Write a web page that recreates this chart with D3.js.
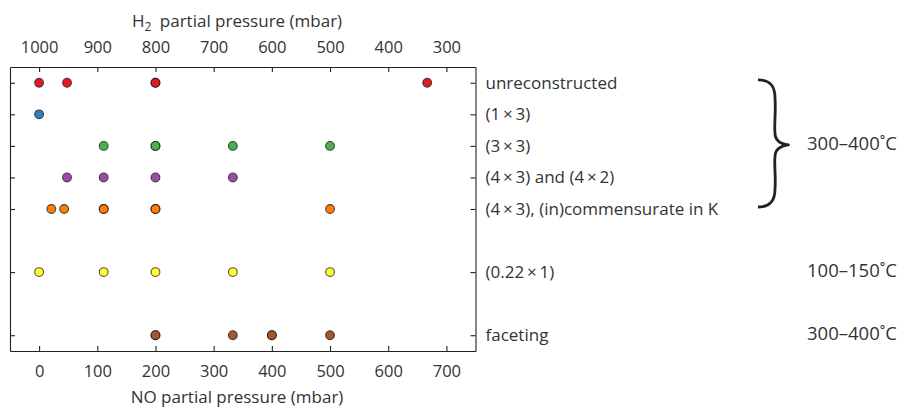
<!DOCTYPE html>
<html>
<head>
<meta charset="utf-8">
<script src="https://cdn.jsdelivr.net/npm/d3@7"></script>
<style>
  body { margin: 0; background: #fff; }
  text { font-family: "Open Sans", sans-serif; fill: #333; }
</style>
</head>
<body>
<script>
// phases observed (rows, top to bottom)
const phases = ["unreconstructed", "(1\u2009×\u20093)", "(3\u2009×\u20093)",
  "(4\u2009×\u20093) and (4\u2009×\u20092)", "(4\u2009×\u20093), (in)commensurate in K",
  "(0.22\u2009×\u20091)", "faceting"]
// empty slots between rows
const rowSlots = [phases[0], phases[1], phases[2], phases[3], phases[4], "gap1", phases[5], "gap2", phases[6]]

// NO partial pressure (mbar) per phase; repeated values = overlapping points
const unreconstructed = [0, 48, 200, 200, 667]
const p1x3 = [0]
const p3x3 = [111, 200, 200, 333, 500]
const p4x3and4x2 = [48, 111, 200, 333]
const p4x3incomm = [21, 43, 111, 111, 200, 200, 500]
const p022x1 = [0, 111, 200, 333, 500]
const faceting = [200, 200, 333, 400, 400, 500]
const seriesValues = [unreconstructed, p1x3, p3x3, p4x3and4x2, p4x3incomm, p022x1, faceting]

const colors = ["#e41a1c", "#377eb8", "#4daf4a", "#984ea3", "#ff7f00", "#ffff33", "#a65628"]

const noTicks = [0, 100, 200, 300, 400, 500, 600, 700]
const totalPressure = 1000

// temperature annotations: label, first phase, last phase
const tempLabels = ["300–400˚C", "100–150˚C", "300–400˚C"]
const tempFrom = [0, 5, 6]
const tempTo = [4, 5, 6]

const width = 901
const height = 410
const margin = ({ top: 67, right: 425.5, bottom: 59, left: 10 })
const tickFont = 16.5
const labelFont = 17
const tempFont = 18.5

const x = d3.scaleLinear()
  .domain([-50, 750])
  .range([margin.left, width - margin.right])

const y = d3.scalePoint()
  .domain(rowSlots)
  .range([margin.top, height - margin.bottom])
  .padding(0.5)

const svg = d3.select('body')
  .append('svg')
  .attr('width', width)
  .attr('height', height)

const styleAxis = (g, size) => {
  g.selectAll('path, line').attr('stroke', '#222').attr('stroke-width', 1.1)
  g.selectAll('text').attr('font-size', size).attr('font-family', '"Open Sans", sans-serif').attr('fill', '#333')
}

svg.append('g')
  .attr('transform', `translate(0,${height - margin.bottom})`)
  .call(d3.axisBottom(x).tickValues(noTicks).tickSizeInner(-5).tickSizeOuter(0).tickPadding(14))
  .call(styleAxis, tickFont)

svg.append('g')
  .attr('transform', `translate(0,${margin.top})`)
  .call(d3.axisTop(x).tickValues(noTicks).tickFormat(d => totalPressure - d).tickSizeInner(-5).tickSizeOuter(0).tickPadding(14))
  .call(styleAxis, tickFont)

svg.append('g')
  .attr('transform', `translate(${margin.left},0)`)
  .call(d3.axisLeft(y).tickValues(phases).tickFormat('').tickSizeInner(-5).tickSizeOuter(0))
  .call(styleAxis, tickFont)

svg.append('g')
  .attr('transform', `translate(${width - margin.right},0)`)
  .call(d3.axisRight(y).tickValues(phases).tickSizeInner(-5).tickSizeOuter(0))
  .call(styleAxis, labelFont)
  .call(g => g.selectAll('text').attr('x', 10))

// axis titles
const titleX = 237
const h2Title = svg.append('text')
  .attr('x', titleX)
  .attr('y', 26.5)
  .attr('text-anchor', 'middle')
  .attr('font-size', labelFont)
h2Title.append('tspan').text('H')
h2Title.append('tspan').attr('font-size', 12).attr('dy', 4).text('2')
h2Title.append('tspan').attr('dy', -4).text('\u2002partial pressure (mbar)')

svg.append('text')
  .attr('x', titleX)
  .attr('y', 403)
  .attr('text-anchor', 'middle')
  .attr('font-size', labelFont)
  .text('NO partial pressure (mbar)')

// points
const points = seriesValues.flatMap((vals, i) => vals.map(v => ({ phase: phases[i], no: v, color: colors[i] })))

svg.append('g')
  .selectAll('circle')
  .data(points)
  .join('circle')
  .attr('cx', d => x(d.no))
  .attr('cy', d => y(d.phase))
  .attr('r', 4.4)
  .attr('fill', d => d.color)
  .attr('stroke', '#1a1a1a')
  .attr('stroke-opacity', 0.75)
  .attr('stroke-width', 1.1)

// temperature labels and brace
const braceX = 758
const stemX = 775
const tipX = 788.5
const labelX = 807

tempLabels.forEach((label, i) => {
  const y0 = y(phases[tempFrom[i]])
  const y1 = y(phases[tempTo[i]])
  const ym = (y0 + y1) / 2 - 1
  if (tempFrom[i] !== tempTo[i]) {
    const top = y0 - 3
    const bot = y1 - 2
    const p = d3.path()
    p.moveTo(braceX, top)
    p.bezierCurveTo(stemX - 5, top, stemX, top + 6, stemX, top + 18)
    p.bezierCurveTo(stemX + 1, ym - 32, stemX - 1, ym - 18, stemX, ym - 12)
    p.bezierCurveTo(stemX, ym - 4, tipX - 8, ym - 1, tipX, ym)
    p.bezierCurveTo(tipX - 8, ym + 1, stemX, ym + 4, stemX, ym + 12)
    p.bezierCurveTo(stemX - 1, ym + 18, stemX + 1, ym + 32, stemX, bot - 18)
    p.bezierCurveTo(stemX, bot - 6, stemX - 5, bot, braceX, bot)
    svg.append('path')
      .attr('d', p.toString())
      .attr('fill', 'none')
      .attr('stroke', '#222')
      .attr('stroke-width', 2.8)
      .attr('stroke-linecap', 'butt')
      .attr('stroke-linejoin', 'round')
  }
  svg.append('text')
    .attr('x', labelX)
    .attr('y', ym)
    .attr('dy', '0.3em')
    .attr('font-size', tempFont)
    .text(label)
})
</script>
</body>
</html>
